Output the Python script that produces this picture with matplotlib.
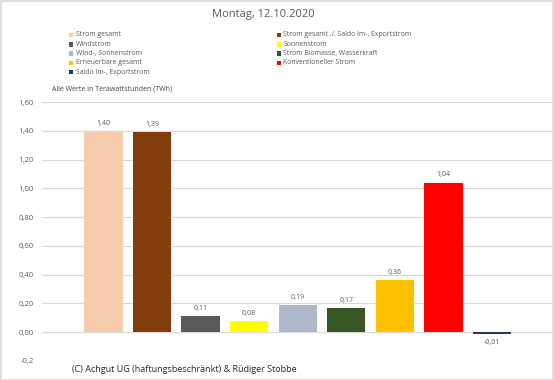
import matplotlib
matplotlib.use("Agg")
import matplotlib.pyplot as plt
from matplotlib.patches import Rectangle
import numpy as np

title = "Montag, 12.10.2020"
series = [
    "Strom gesamt",
    "Strom gesamt ./. Saldo Im-, Exportstrom",
    "Windstrom",
    "Sonnenstrom",
    "Wind-, Sonnenstrom",
    "Strom Biomasse, Wasserkraft",
    "Erneuerbare gesamt",
    "Konventioneller Strom",
    "Saldo Im-, Exportstrom",
]
values = [1.40, 1.39, 0.11, 0.08, 0.19, 0.17, 0.36, 1.04, -0.01]
colors = ["#F8CBAD", "#843C0C", "#595959", "#FFFF00", "#ADB9CA",
          "#375623", "#FFC000", "#FF0000", "#203864"]
yticks = [-0.2, 0.0, 0.2, 0.4, 0.6, 0.8, 1.0, 1.2, 1.4, 1.6]
ytick_labels = ["-0,2", "0,00", "0,20", "0,40", "0,60", "0,80", "1,00",
                "1,20", "1,40", "1,60"]

FONT = "Open Sans"
W, H = 554, 380
fig = plt.figure(figsize=(W / 100, H / 100), dpi=100)
fig.patch.set_facecolor("white")

ax = fig.add_axes([42 / W, 19 / H, 510 / W, 259 / H])
x = np.arange(len(values))
bars = ax.bar(x, values, width=0.79, color=colors, zorder=3)
ax.set_xlim(-1.266, 9.236)
ax.set_ylim(-0.2, 1.6)
ax.set_yticks(yticks)
ax.set_yticklabels(ytick_labels, fontsize=5.5, color="#595959", family=FONT)
ax.tick_params(axis="y", length=0, pad=6)
ax.set_xticks([])
for s in ax.spines.values():
    s.set_visible(False)
ax.grid(axis="y", color="#d9d9d9", linewidth=0.8, zorder=0)
ax.set_axisbelow(True)

for xi, v in zip(x, values):
    txt = f"{v:.2f}".replace(".", ",")
    if v >= 0:
        ax.annotate(txt, (xi, v), xytext=(0, 3), textcoords="offset points",
                    ha="center", va="bottom", fontsize=5, color="#595959",
                    family=FONT)
    else:
        ax.annotate(txt, (xi, v), xytext=(0, -4), textcoords="offset points",
                    ha="center", va="top", fontsize=5, color="#595959",
                    family=FONT)

# Title
fig.text(263.5 / W, 1 - 15 / H, title, ha="center", va="center",
         fontsize=8, color="#595959", family=FONT)

# Legend (row-major, two columns)
col_x = [69, 277]
row_y = [35, 44.3, 53.6, 62.9, 72.2]
for i, (name, c) in enumerate(zip(series, colors)):
    cx = col_x[i % 2]
    ry = row_y[i // 2]
    fig.patches.append(Rectangle(((cx) / W, 1 - (ry + 2.2) / H), 4.2 / W, 4.5 / H,
                                 transform=fig.transFigure, facecolor=c,
                                 edgecolor="none"))
    fig.text((cx + 6.5) / W, 1 - ry / H, name, ha="left", va="center",
             fontsize=4.95, color="#595959", family=FONT)

fig.text(52 / W, 1 - 89 / H, "Alle Werte in Terawattstunden (TWh)",
         ha="left", va="center", fontsize=5, color="#404040", family=FONT)

# White box of the copyright note covering the lower gridline
fig.patches.append(Rectangle((40 / W, 1 - 378 / H), 282 / W, 23 / H,
                             transform=fig.transFigure, facecolor="white",
                             edgecolor="none", zorder=5))
fig.text(72 / W, 1 - 370 / H,
         "(C) Achgut UG (haftungsbeschränkt) & Rüdiger Stobbe",
         ha="left", va="center", fontsize=6.45, color="#262626", family=FONT,
         zorder=6)

# Outer border
fig.patches.append(Rectangle((0.5 / W, 0.5 / H), (W - 1.5) / W, (H - 1.5) / H,
                             transform=fig.transFigure, fill=False,
                             edgecolor="#d9d9d9", linewidth=1.2, zorder=10))

fig.savefig("out.png", dpi=100)
